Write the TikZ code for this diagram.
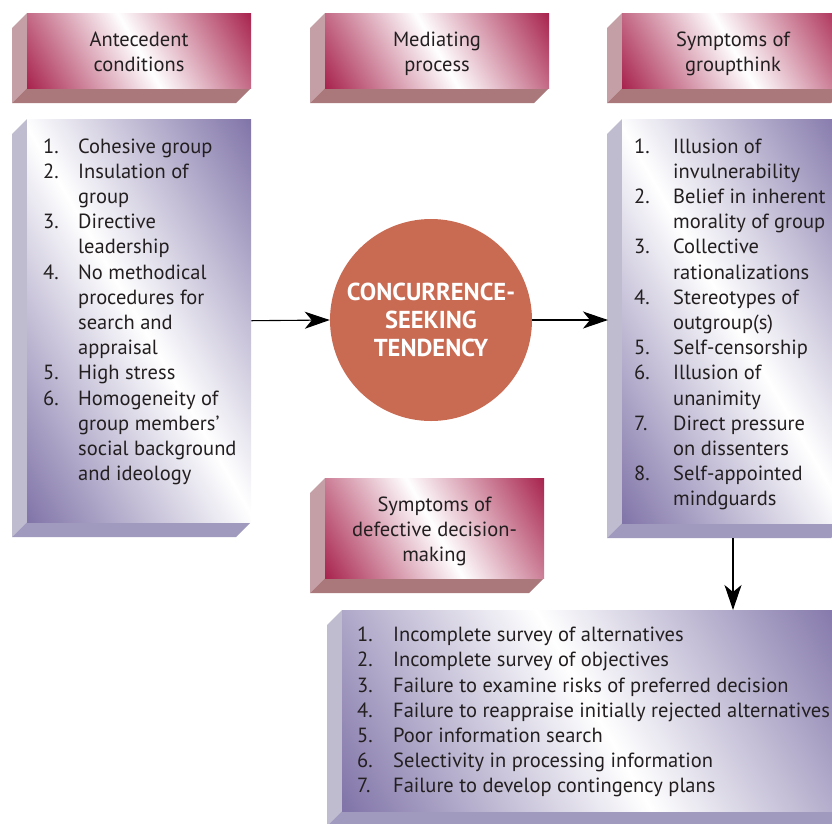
\documentclass[tikz,border=0pt]{standalone}
\usepackage{fontspec}
\setmainfont{PT Sans}
\usepackage{array}
\usetikzlibrary{arrows.meta}
\definecolor{mD}{RGB}{168,36,78}
\definecolor{pD}{RGB}{128,116,168}
\definecolor{mSide}{RGB}{196,160,166}
\definecolor{mBot}{RGB}{170,120,123}
\definecolor{pSide}{RGB}{190,188,206}
\definecolor{pBot}{RGB}{160,154,190}
\definecolor{circfill}{RGB}{201,106,83}
\definecolor{ink}{RGB}{35,31,32}
\pgfdeclarehorizontalshading{mband}{100bp}{color(0bp)=(mD); color(25bp)=(mD); color(50bp)=(white); color(75bp)=(mD); color(100bp)=(mD)}
\pgfdeclarehorizontalshading{pband}{100bp}{color(0bp)=(pD); color(25bp)=(pD); color(50bp)=(white); color(75bp)=(pD); color(100bp)=(pD)}
% slab: name, x1, y1, x2, y2, shading, side colour, bottom colour
\newcommand\slab[8]{%
  \fill[#7] (#2,#3) -- (#2-15,#3+15) -- (#2-15,#5+15) -- (#2,#5) -- cycle;
  \fill[#8] (#2,#5) -- (#4,#5) -- (#4-15,#5+15) -- (#2-15,#5+15) -- cycle;
  \pgfmathsetmacro\slabcx{(#2+#4)/2}%
  \pgfmathsetmacro\slabcy{(#3+#5)/2}%
  \pgfmathsetmacro\slabha{abs(#4-#2)/2*cos(30)+abs(#5-#3)/2*sin(30)}%
  \pgfmathsetmacro\slabw{#4-#2}%
  \pgfmathsetmacro\slabh{#5-#3}%
  \shade[shading=#6, shading angle=30] (\slabcx-\slabha,\slabcy-\slabha) (\slabcx+\slabha,\slabcy+\slabha) (#2,#3) rectangle (#4,#5);
  \node[inner sep=0, minimum width=\slabw pt, minimum height=\slabh pt, anchor=north west] (#1) at (#2,#3) {};
}
\begin{document}
\begin{tikzpicture}[x=1pt,y=-1pt,
  txt/.style={font=\fontsize{20.5}{25.2}\selectfont, text=ink, inner sep=0, anchor=base},
  listtxt/.style={txt, anchor=base west},
  arr/.style={line width=1.1pt, -{Stealth[length=25pt,width=17pt,inset=7pt]}}]
\useasboundingbox (0,0) rectangle (832,823);
\clip (0,0) rectangle (832,823);

% headers
\slab{hant}{27}{13}{251}{88}{mband}{mSide}{mBot}
\slab{hmed}{325}{13}{549}{88}{mband}{mSide}{mBot}
\slab{hsym}{622}{13}{846}{88}{mband}{mSide}{mBot}
\slab{hdef}{325}{478}{544}{578}{mband}{mSide}{mBot}

% lists
\slab{antlist}{27}{119}{251}{522}{pband}{pSide}{pBot}
\slab{symlist}{622}{119}{846}{523}{pband}{pSide}{pBot}
\slab{declist}{342}{610}{846}{811}{pband}{pSide}{pBot}

% header texts
\node[txt] (tant) at (139,46) {\begin{tabular}[t]{@{}c@{}}Antecedent\\conditions\end{tabular}};
\node[txt] (tmed) at (437,46) {\begin{tabular}[t]{@{}c@{}}Mediating\\process\end{tabular}};
\node[txt] (tsym) at (733,46) {\begin{tabular}[t]{@{}c@{}}Symptoms of\\groupthink\end{tabular}};
\node[txt] (tdef) at (434.5,511) {\begin{tabular}[t]{@{}c@{}}Symptoms of\\defective decision-\\making\end{tabular}};

% list texts
\node[listtxt] (antitems) at (43,153) {\begin{tabular}[t]{@{}w{l}{35pt}@{}l@{}}
1. & Cohesive group\\
2. & Insulation of\\
   & group\\
3. & Directive\\
   & leadership\\
4. & No methodical\\
   & procedures for\\
   & search and\\
   & appraisal\\
5. & High stress\\
6. & Homogeneity of\\
   & group members’\\
   & social background\\
   & and ideology
\end{tabular}};

\node[listtxt] (symitems) at (634,153) {\begin{tabular}[t]{@{}w{l}{39pt}@{}l@{}}
1. & Illusion of\\
   & invulnerability\\
2. & Belief in inherent\\
   & morality of group\\
3. & Collective\\
   & rationalizations\\
4. & Stereotypes of\\
   & outgroup(s)\\
5. & Self-censorship\\
6. & Illusion of\\
   & unanimity\\
7. & Direct pressure\\
   & on dissenters\\
8. & Self-appointed\\
   & mindguards
\end{tabular}};

\node[listtxt] (decitems) at (357,641.7) {\begin{tabular}[t]{@{}w{l}{36pt}@{}l@{}}
1. & Incomplete survey of alternatives\\
2. & Incomplete survey of objectives\\
3. & Failure to examine risks of preferred decision\\
4. & Failure to reappraise initially rejected alternatives\\
5. & Poor information search\\
6. & Selectivity in processing information\\
7. & Failure to develop contingency plans
\end{tabular}};

% central circle
\node[circle, fill=circfill, minimum size=202pt, inner sep=0] (circ) at (431,320) {};
\node[txt, text=white, font=\fontsize{24.5}{28.4}\selectfont\bfseries] (ctext) at (431,300)
  {\begin{tabular}[t]{@{}c@{}}CONCURRENCE-\\SEEKING\\TENDENCY\end{tabular}};

% connectors
\coordinate (symside) at (608,320);
\coordinate (symbot) at (733,538);
\draw[arr] (antlist.east) -- (circ.west);
\draw[arr] (circ.east) -- (symside);
\draw[arr] (symbot) -- (symbot |- declist.north);
\end{tikzpicture}
\end{document}
